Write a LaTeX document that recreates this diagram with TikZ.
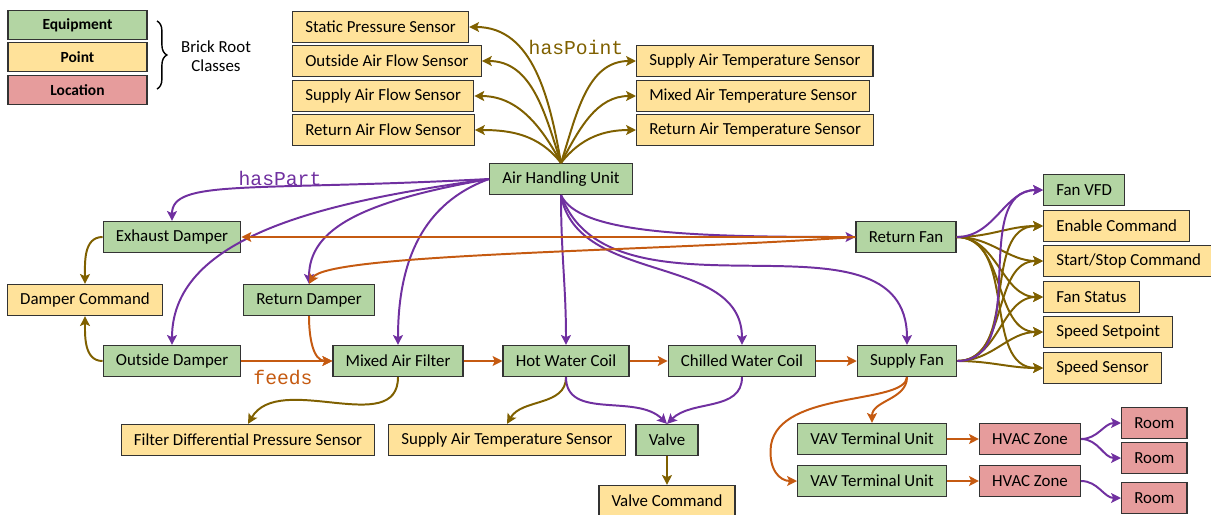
\documentclass[tikz,border=0pt]{standalone}
\usepackage{fontspec}
\setmainfont{Carlito}
\newfontfamily\relfont{Liberation Mono}
\usetikzlibrary{arrows.meta,decorations.pathreplacing}
\definecolor{eqgreen}{HTML}{B3D5A3}
\definecolor{ptyellow}{HTML}{FFE29A}
\definecolor{locred}{HTML}{E69C9C}
\definecolor{ptline}{HTML}{7F6000}
\definecolor{partline}{HTML}{7030A0}
\definecolor{feedline}{HTML}{C55A11}

\begin{document}
\begin{tikzpicture}[x=0.025cm,y=0.025cm,
  box/.style={draw=black!80,line width=0.9pt,minimum height=22pt,inner xsep=9pt,inner ysep=2pt,font=\fontsize{12}{14}\selectfont},
  eqbox/.style={box,fill=eqgreen},
  ptbox/.style={box,fill=ptyellow},
  locbox/.style={box,fill=locred},
  legbox/.style={minimum width=3.475cm,minimum height=21pt,font=\bfseries\fontsize{11}{13}\selectfont},
  rel/.style={line width=1.4pt,-{Stealth[length=7pt,width=7pt,inset=1.5pt]}},
  haspoint/.style={rel,color=ptline},
  haspart/.style={rel,color=partline},
  feeds/.style={rel,color=feedline},
  rellabel/.style={font=\relfont\fontsize{14}{16}\selectfont}]
\useasboundingbox (0,0) rectangle (1211,-514);

\node[eqbox,legbox] (leq) at (77.5,-25) {Equipment};
\node[ptbox,legbox] (lpt) at (77.5,-57) {Point};
\node[locbox,legbox] (lloc) at (77.5,-90) {Location};
\draw[line width=1pt,decorate,decoration={brace,amplitude=7pt}] (157,-21) -- (157,-89);
\node[align=center,font=\fontsize{12}{13.5}\selectfont] (brick) at (216,-56) {Brick Root\\Classes};

\foreach \n/\y/\t in {sps/27/Static Pressure Sensor, oafs/61/Outside Air Flow Sensor, safs/96/Supply Air Flow Sensor, rafs/130/Return Air Flow Sensor}
  \node[ptbox,anchor=west] (\n) at (292,-\y) {\t};
\foreach \n/\y/\t in {sats/61/Supply Air Temperature Sensor, mats/96/Mixed Air Temperature Sensor, rats/130/Return Air Temperature Sensor}
  \node[ptbox,anchor=west] (\n) at (636,-\y) {\t};

\node[eqbox] (ahu) at (561,-179) {Air Handling Unit};
\node[eqbox] (exd) at (172,-237) {Exhaust Damper};
\node[ptbox] (dc) at (85,-300) {Damper Command};
\node[eqbox] (rd) at (309,-300) {Return Damper};
\node[eqbox] (od) at (172,-361) {Outside Damper};
\node[eqbox] (maf) at (398,-361) {Mixed Air Filter};
\node[eqbox] (hwc) at (566,-361) {Hot Water Coil};
\node[eqbox] (cwc) at (742,-361) {Chilled Water Coil};
\node[eqbox] (sf) at (907,-361) {Supply Fan};
\node[eqbox] (rf) at (906,-237) {Return Fan};

\node[eqbox,anchor=west] (vfd) at (1043,-190) {Fan VFD};
\foreach \n/\y/\t in {enc/226/Enable Command, ssc/261/{Start/Stop Command}, fst/297/Fan Status, spset/332/Speed Setpoint, spsen/368/Speed Sensor}
  \node[ptbox,anchor=west] (\n) at (1043,-\y) {\t};

\node[ptbox] (fdps) at (248,-440) {Filter Differential Pressure Sensor};
\node[ptbox] (sats2) at (507,-440) {Supply Air Temperature Sensor};
\node[eqbox] (valve) at (667,-440) {Valve};
\node[ptbox] (vc) at (667,-501) {Valve Command};
\node[eqbox] (vav1) at (872,-439) {VAV Terminal Unit};
\node[eqbox] (vav2) at (872,-481) {VAV Terminal Unit};
\node[locbox] (hz1) at (1030,-439) {HVAC Zone};
\node[locbox] (hz2) at (1030,-481) {HVAC Zone};
\node[locbox,anchor=west] (room1) at (1121,-423) {Room};
\node[locbox,anchor=west] (room2) at (1121,-458) {Room};
\node[locbox,anchor=west] (room3) at (1121,-498) {Room};

\node[rellabel,ptline] (lblpt) at (576,-47) {hasPoint};
\node[rellabel,partline] (lblpart) at (280,-178) {hasPart};
\node[rellabel,feedline] (lblfeed) at (283,-377) {feeds};

\foreach \n/\o in {sps/100, oafs/108, safs/118, rafs/128}
  \draw[haspoint] (ahu.north) to[out=\o,in=0] (\n.east);
\foreach \n/\o in {sats/72, mats/62, rats/52}
  \draw[haspoint] (ahu.north) to[out=\o,in=180] (\n.west);
\foreach \n in {enc,ssc,fst,spset,spsen} {
  \draw[haspoint] (rf.east) to[out=0,in=180] (\n.west);
  \draw[haspoint] (sf.east) to[out=0,in=180] (\n.west);
}
\draw[haspoint] (exd.west) to[out=180,in=90] (dc.north);
\draw[haspoint] (od.west) to[out=180,in=-90] (dc.south);
\draw[haspoint] (maf.south) to[out=-90,in=60] (fdps.north);
\draw[haspoint] (hwc.south) to[out=-90,in=60] (sats2.north);
\draw[haspoint] (valve.south) -- (vc.north);

\draw[haspart] (ahu.west) to[out=183,in=90,out distance=170pt,in distance=30pt] (exd.north);
\draw[haspart] (ahu.west) to[out=188,in=90,out distance=110pt,in distance=80pt] (od.north);
\draw[haspart] (ahu.west) to[out=190,in=90,out distance=90pt,in distance=40pt] (rd.north);
\draw[haspart] (ahu.west) to[out=200,in=90,out distance=50pt,in distance=60pt] (maf.north);
\draw[haspart] (ahu.south) to[out=-90,in=90] (hwc.north);
\draw[haspart] (ahu.south) to[out=-80,in=90] (cwc.north);
\draw[haspart] (ahu.south) to[out=-70,in=90] (sf.north);
\draw[haspart] (ahu.south) to[out=-65,in=180,out distance=30pt,in distance=120pt] (rf.west);
\draw[haspart] (rf.east) to[out=0,in=180] (vfd.west);
\draw[haspart] (sf.east) to[out=0,in=180] (vfd.west);
\draw[haspart] (hwc.south) to[out=-90,in=135] (valve.north);
\draw[haspart] (cwc.south) to[out=-90,in=45] (valve.north);
\draw[haspart] (hz1.east) to[out=0,in=180] (room1.west);
\draw[haspart] (hz1.east) to[out=0,in=180] (room2.west);
\draw[haspart] (hz2.east) to[out=0,in=180] (room3.west);

\draw[feeds] (rf.west) -- (exd.east);
\draw[feeds] (rf.west) to[out=184,in=60,out distance=150pt,in distance=25pt] (rd.north);
\draw[feeds] (rd.south) to[out=-90,in=180] (maf.west);
\draw[feeds] (od.east) -- (maf.west);
\draw[feeds] (maf.east) -- (hwc.west);
\draw[feeds] (hwc.east) -- (cwc.west);
\draw[feeds] (cwc.east) -- (sf.west);
\draw[feeds] (sf.south) to[out=-90,in=90] (vav1.north);
\draw[feeds] (sf.south) .. controls (905,-405) and (780,-390) .. (771,-445) .. controls (768,-470) and (780,-481) .. (vav2.west);
\draw[feeds] (vav1.east) -- (hz1.west);
\draw[feeds] (vav2.east) -- (hz2.west);
\end{tikzpicture}
\end{document}
